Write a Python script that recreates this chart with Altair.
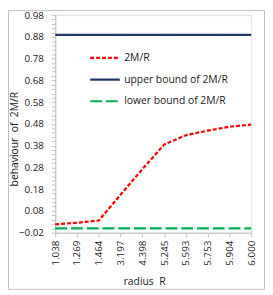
import altair as alt
import pandas as pd

# ---- data ----
radius = ["1.038", "1.269", "1.464", "3.197", "4.398", "5.245", "5.593", "5.753", "5.904", "6.000"]
ratio_2m_r = [0.018, 0.026, 0.036, 0.155, 0.272, 0.385, 0.428, 0.449, 0.467, 0.477]
upper_bound = [0.8889] * 10
lower_bound = [0.0] * 10

series_names = ["2M/R", "upper bound of 2M/R", "lower bound of 2M/R"]
series_colors = ["#FF0000", "#1F3864", "#00B050"]
series_dash = [[4, 2], [1, 0], [12, 4]]

x_title = "radius\u00a0 R"
y_title = "behaviour\u00a0 of\u00a0 2M/R"

y_major = [-0.02, 0.08, 0.18, 0.28, 0.38, 0.48, 0.58, 0.68, 0.78, 0.88, 0.98]
y_ticks = [round(y_major[0] + 0.02 * i, 2) for i in range(51)]

rows = []
for name, vals in zip(series_names, [ratio_2m_r, upper_bound, lower_bound]):
    for r, v in zip(radius, vals):
        rows.append({"series": name, "radius": r, "value": v})
df = pd.DataFrame(rows)

FONT = "Open Sans"
TXT = "#1a1a1a"
GRID = "#BFBFBF"
W, H = 199, 221

lines = alt.Chart(df).mark_line(strokeWidth=2.25, strokeCap="butt").encode(
    x=alt.X(
        "radius:O",
        sort=radius,
        scale=alt.Scale(type="point", padding=0),
        axis=alt.Axis(
            title=None,
            labelAngle=270,
            labelAlign="right",
            labelBaseline="middle",
            labelPadding=3.5,
            tickSize=4,
            tickColor=GRID,
            domainColor=GRID,
            labelFont=FONT,
            labelFontSize=10,
            labelColor=TXT,
            grid=False,
        ),
    ),
    y=alt.Y(
        "value:Q",
        scale=alt.Scale(domain=[-0.02, 0.98], nice=False, zero=False),
        axis=alt.Axis(
            title=None,
            values=y_ticks,
            labelExpr="round((datum.value + 0.02) * 50) % 5 == 0 ? format(datum.value, '.2f') : ''",
            tickSize=4,
            tickColor=GRID,
            domainColor=GRID,
            labelPadding=8,
            labelFont=FONT,
            labelFontSize=10,
            labelColor=TXT,
            grid=False,
        ),
    ),
    color=alt.Color(
        "series:N",
        scale=alt.Scale(domain=series_names, range=series_colors),
        legend=alt.Legend(
            title=None,
            orient="none",
            legendX=34,
            legendY=27,
            symbolType="stroke",
            symbolSize=900,
            symbolStrokeWidth=2.25,
            labelFont=FONT,
            labelFontSize=10.5,
            labelColor=TXT,
            labelOffset=3,
            rowPadding=-5,
            padding=0,
        ),
    ),
    strokeDash=alt.StrokeDash(
        "series:N",
        scale=alt.Scale(domain=series_names, range=series_dash),
        legend=alt.Legend(title=None, orient="none", legendX=34, legendY=27),
    ),
)

one = pd.DataFrame({"a": [0]})

xt = alt.Chart(one).mark_text(
    text=x_title, font=FONT, fontSize=10.5, color=TXT, align="center", baseline="alphabetic"
).encode(x=alt.value(90.7), y=alt.value(273.7))

yt = alt.Chart(one).mark_text(
    text=y_title, font=FONT, fontSize=10.5, color=TXT, align="center", baseline="middle", angle=270
).encode(x=alt.value(-41), y=alt.value(126))

border = alt.Chart(one).mark_rect(
    fill=None, fillOpacity=0, stroke=GRID, strokeWidth=1
).encode(
    x=alt.value(-47.5),
    x2=alt.value(W + 13.5),
    y=alt.value(-4.5),
    y2=alt.value(H + 57.5),
)

chart = alt.layer(lines, xt, yt, border).properties(
    width=W,
    height=H,
    autosize=alt.AutoSizeParams(type="none"),
    padding={"left": 48, "top": 5, "right": 14, "bottom": 58},
).configure_view(stroke=None).configure(background="white")

chart.save("out.html", embed_options={"renderer": "svg", "actions": False})
